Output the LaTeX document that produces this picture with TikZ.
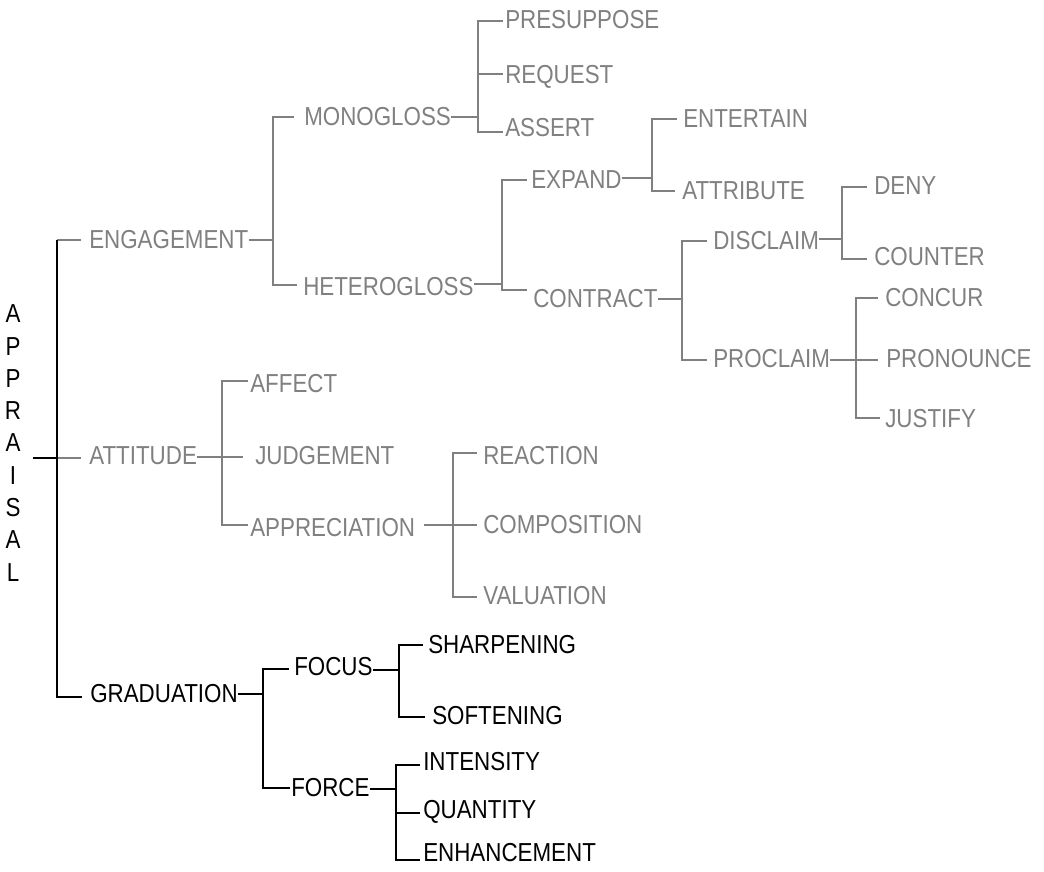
\documentclass[tikz,border=0pt]{standalone}
\usepackage{fontspec}
\setmainfont{Liberation Sans}[FakeStretch=0.86]
\usetikzlibrary{calc}
\definecolor{branchgray}{RGB}{128,128,128}
\begin{document}
\begin{tikzpicture}[x=0.75pt,y=-0.75pt,
  lbl/.style={anchor=west, inner sep=0pt, text height=14pt, text depth=0pt,
              font=\fontsize{19.5pt}{22pt}\selectfont},
  soft/.style={lbl, text=branchgray},
  hard/.style={lbl, text=black},
  rootlbl/.style={inner sep=0pt, align=center, text=black,
              font=\fontsize{19.5pt}{24.2pt}\selectfont},
  gline/.style={draw=branchgray, line width=1.4pt, line join=miter},
  bline/.style={draw=black, line width=1.4pt, line join=miter}]
\useasboundingbox (0,0) rectangle (1044,871);

% ---------- labels ----------
\node[rootlbl] (app) at (13,443) {A\\P\\P\\R\\A\\I\\S\\A\\L};

\node[soft] (eng)  at (89,239)  {ENGAGEMENT};
\node[soft] (att)  at (89,455)  {ATTITUDE};
\node[hard] (grad) at (90,693)  {GRADUATION};

\node[soft] (mono) at (304,116) {MONOGLOSS};
\node[soft] (het)  at (303,286) {HETEROGLOSS};
\node[soft] (pre)  at (505,19)  {PRESUPPOSE};
\node[soft] (req)  at (505,74)  {REQUEST};
\node[soft] (asr)  at (505,127) {ASSERT};
\node[soft] (exp)  at (531,179) {EXPAND};
\node[soft] (con)  at (533,298) {CONTRACT};
\node[soft] (ent)  at (683,118) {ENTERTAIN};
\node[soft] (atr)  at (682,190) {ATTRIBUTE};
\node[soft] (dis)  at (713,240) {DISCLAIM};
\node[soft] (pro)  at (713,358) {PROCLAIM};
\node[soft] (deny) at (874,185) {DENY};
\node[soft] (cnt)  at (874,256) {COUNTER};
\node[soft] (ccr)  at (885,297) {CONCUR};
\node[soft] (pron) at (886,358) {PRONOUNCE};
\node[soft] (jus)  at (885,418) {JUSTIFY};

\node[soft] (aff)  at (250,383) {AFFECT};
\node[soft] (jud)  at (255,455) {JUDGEMENT};
\node[soft] (apr)  at (250,527) {APPRECIATION};
\node[soft] (rea)  at (483,455) {REACTION};
\node[soft] (comp) at (483,524) {COMPOSITION};
\node[soft] (val)  at (483,595) {VALUATION};

\node[hard] (foc)  at (294,666) {FOCUS};
\node[hard] (frc)  at (291,787) {FORCE};
\node[hard] (shp)  at (428,644) {SHARPENING};
\node[hard] (sft)  at (432,715) {SOFTENING};
\node[hard] (ints) at (423,761) {INTENSITY};
\node[hard] (qty)  at (423,809) {QUANTITY};
\node[hard] (enh)  at (423,852) {ENHANCEMENT};

% ---------- vertical bars of the brackets ----------
\coordinate (trunk) at (57,0);
\coordinate (vEng)  at (273,0);
\coordinate (vMono) at (478,0);
\coordinate (vHet)  at (502,0);
\coordinate (vExp)  at (652,0);
\coordinate (vCon)  at (682,0);
\coordinate (vDis)  at (842,0);
\coordinate (vPro)  at (856,0);
\coordinate (vAtt)  at (222,0);
\coordinate (vApr)  at (453,0);
\coordinate (vGrad) at (263,0);
\coordinate (vFoc)  at (399,0);
\coordinate (vFrc)  at (396,0);

% ---------- tick ends in front of each label ----------
\coordinate (tEng)  at ($(eng.west)+(-8,1)$);
\coordinate (tAtt)  at ($(att.west)+(-8,3)$);
\coordinate (tGrad) at ($(grad.west)+(-8,4)$);
\coordinate (tMono) at ($(mono.west)+(-10,1)$);
\coordinate (tHet)  at ($(het.west)+(-6,-1)$);
\coordinate (tPre)  at ($(pre.west)+(-2,2)$);
\coordinate (tReq)  at ($(req.west)+(-2,0)$);
\coordinate (tAsr)  at ($(asr.west)+(-2,5)$);
\coordinate (tExp)  at ($(exp.west)+(-4,1)$);
\coordinate (tCon)  at ($(con.west)+(-6,-8)$);
\coordinate (tEnt)  at ($(ent.west)+(-6,1)$);
\coordinate (tAtr)  at ($(atr.west)+(-7,1)$);
\coordinate (tDis)  at ($(dis.west)+(-6,1)$);
\coordinate (tPro)  at ($(pro.west)+(-6,2)$);
\coordinate (tDeny) at ($(deny.west)+(-7,2)$);
\coordinate (tCnt)  at ($(cnt.west)+(-7,3)$);
\coordinate (tCcr)  at ($(ccr.west)+(-7,1)$);
\coordinate (tPron) at ($(pron.west)+(-8,2)$);
\coordinate (tJus)  at ($(jus.west)+(-5,0)$);
\coordinate (tAff)  at ($(aff.west)+(-2,-2)$);
\coordinate (tJud)  at ($(jud.west)+(-12,2)$);
\coordinate (tApr)  at ($(apr.west)+(-2,-2)$);
\coordinate (tRea)  at ($(rea.west)+(-6,-2)$);
\coordinate (tComp) at ($(comp.west)+(-6,1)$);
\coordinate (tVal)  at ($(val.west)+(-6,2)$);
\coordinate (tFoc)  at ($(foc.west)+(-5,3)$);
\coordinate (tFrc)  at ($(frc.west)+(-1,1)$);
\coordinate (tShp)  at ($(shp.west)+(-5,1)$);
\coordinate (tSft)  at ($(sft.west)+(-7,2)$);
\coordinate (tInts) at ($(ints.west)+(-3,4)$);
\coordinate (tQty)  at ($(qty.west)+(-3,4)$);
\coordinate (tEnh)  at ($(enh.west)+(-3,8)$);

% ---------- stems leaving each parent ----------
\coordinate (pApp)  at ($(app.center)+(20,15)$);
\coordinate (pEng)  at ($(eng.east)+(0,1)$);
\coordinate (pAtt)  at ($(att.east)+(0,2)$);
\coordinate (pGrad) at ($(grad.east)+(0,1)$);
\coordinate (pMono) at ($(mono.east)+(0,1)$);
\coordinate (pHet)  at ($(het.east)+(0,-2)$);
\coordinate (pExp)  at ($(exp.east)+(0,-1)$);
\coordinate (pCon)  at ($(con.east)+(0,1)$);
\coordinate (pDis)  at ($(dis.east)+(0,-1)$);
\coordinate (pPro)  at ($(pro.east)+(0,2)$);
\coordinate (pApr)  at ($(apr.east)+(9,-2)$);
\coordinate (pFoc)  at ($(foc.east)+(0,4)$);
\coordinate (pFrc)  at ($(frc.east)+(0,2)$);

% ---------- root and trunk ----------
\draw[gline] (tEng -| trunk) -- (tEng);
\draw[gline] (tAtt -| trunk) -- (tAtt);
\draw[bline] (pApp) -- (pApp -| trunk);
\draw[bline] (tEng -| trunk) -- (tGrad -| trunk) -- (tGrad);

% ---------- ENGAGEMENT ----------
\draw[gline] (pEng) -- (pEng -| vEng);
\draw[gline] (tMono) -- (tMono -| vEng) -- (tHet -| vEng) -- (tHet);

\draw[gline] (pMono) -- (pMono -| vMono);
\draw[gline] (tPre) -- (tPre -| vMono) -- (tAsr -| vMono) -- (tAsr);
\draw[gline] (tReq -| vMono) -- (tReq);

\draw[gline] (pHet) -- (pHet -| vHet);
\draw[gline] (tExp) -- (tExp -| vHet) -- (tCon -| vHet) -- (tCon);

\draw[gline] (pExp) -- (pExp -| vExp);
\draw[gline] (tEnt) -- (tEnt -| vExp) -- (tAtr -| vExp) -- (tAtr);

\draw[gline] (pCon) -- (pCon -| vCon);
\draw[gline] (tDis) -- (tDis -| vCon) -- (tPro -| vCon) -- (tPro);

\draw[gline] (pDis) -- (pDis -| vDis);
\draw[gline] (tDeny) -- (tDeny -| vDis) -- (tCnt -| vDis) -- (tCnt);

\draw[gline] (pPro) -- (pPro -| tPron);
\draw[gline] (tCcr) -- (tCcr -| vPro) -- (tJus -| vPro) -- (tJus);

% ---------- ATTITUDE ----------
\draw[gline] (pAtt) -- (pAtt -| tJud);
\draw[gline] (tAff) -- (tAff -| vAtt) -- (tApr -| vAtt) -- (tApr);

\draw[gline] (pApr) -- (pApr -| tComp);
\draw[gline] (tRea) -- (tRea -| vApr) -- (tVal -| vApr) -- (tVal);

% ---------- GRADUATION ----------
\draw[bline] (pGrad) -- (pGrad -| vGrad);
\draw[bline] (tFoc) -- (tFoc -| vGrad) -- (tFrc -| vGrad) -- (tFrc);

\draw[bline] (pFoc) -- (pFoc -| vFoc);
\draw[bline] (tShp) -- (tShp -| vFoc) -- (tSft -| vFoc) -- (tSft);

\draw[bline] (pFrc) -- (pFrc -| vFrc);
\draw[bline] (tInts) -- (tInts -| vFrc) -- (tEnh -| vFrc) -- (tEnh);
\draw[bline] (tQty -| vFrc) -- (tQty);
\end{tikzpicture}
\end{document}
